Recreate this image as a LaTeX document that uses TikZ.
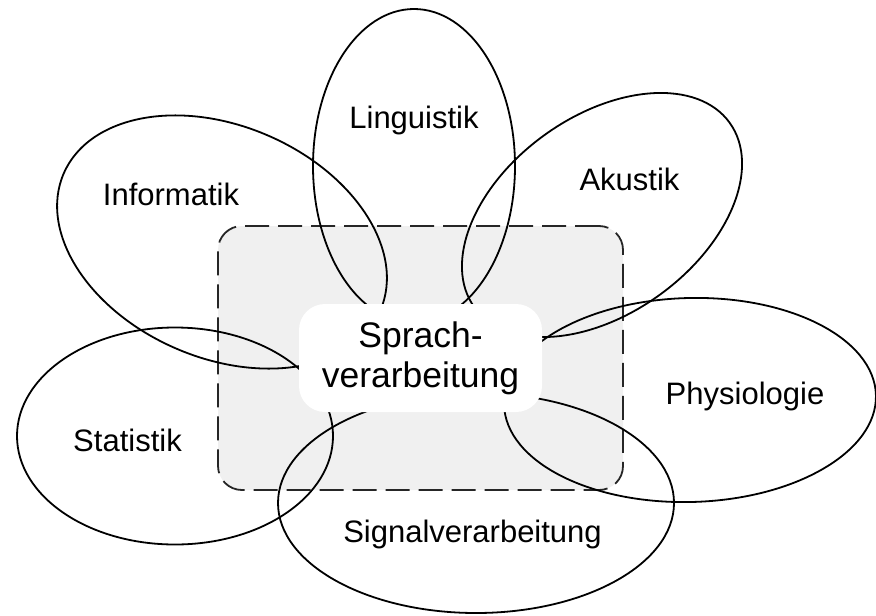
\documentclass[tikz,border=0pt]{standalone}
\usepackage{fontspec}
\setmainfont{Liberation Sans}
\usetikzlibrary{shapes.geometric}
\tikzset{
field/.style={draw=black,line width=0.9pt,ellipse,inner sep=0pt},
zone/.style={draw=black!85,fill=black!6,line width=0.9pt,dash pattern=on 12pt off 4.5pt,rounded corners=12pt,inner sep=0pt},
core/.style={fill=white,rounded corners=13pt,inner sep=0pt,align=center,font=\fontsize{17.75pt}{20pt}\selectfont},
tag/.style={anchor=base,font=\fontsize{15.5pt}{18pt}\selectfont}
}

\begin{document}
\begin{tikzpicture}[x=0.5pt,y=-0.5pt]
\useasboundingbox (0,0) rectangle (876,615);
% shaded zone behind the centre
\node[zone,minimum width=202.5pt,minimum height=132pt] (zone) at (420.5,358) {};
% the six fields
\node[field,minimum width=101pt,minimum height=157pt] (ling) at (414,166) {};
\node[field,minimum width=172.5pt,minimum height=116pt,rotate=-23.4] (inf) at (222,242) {};
\node[field,minimum width=157.5pt,minimum height=98.5pt,rotate=35.9] (aku) at (602,215) {};
\node[field,minimum width=186pt,minimum height=102pt,rotate=1.5] (phys) at (690,400) {};
\node[field,minimum width=158pt,minimum height=108.5pt] (stat) at (175,436) {};
\node[field,minimum width=198pt,minimum height=110pt] (sig) at (476,503) {};
% centre box hides the inner ends
\node[core,minimum width=121.5pt,minimum height=54pt] (core) at (420.5,358) {Sprach-\\verarbeitung};
% labels
\node[tag] (lingtxt) at (414,128) {Linguistik};
\node[tag] (inftxt) at (171,205) {Informatik};
\node[tag] (akutxt) at (629.5,190) {Akustik};
\node[tag] (phystxt) at (745,404) {Physiologie};
\node[tag] (stattxt) at (127.5,451) {Statistik};
\node[tag] (sigtxt) at (472.5,542) {Signalverarbeitung};
\end{tikzpicture}
\end{document}
